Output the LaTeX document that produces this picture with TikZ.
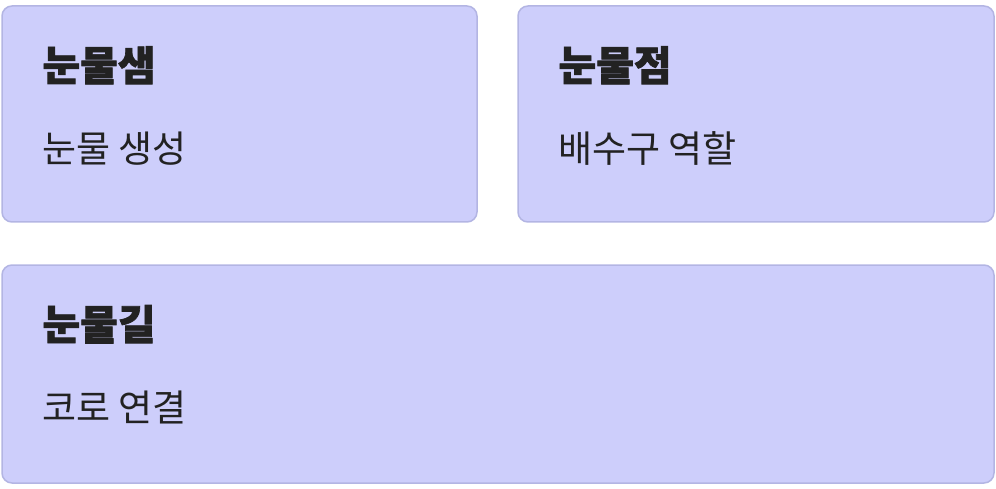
\documentclass[tikz,border=0pt]{standalone}
\usepackage{fontspec}
\newfontfamily\hangul{Noto Sans CJK KR}
\newfontfamily\hangulnero{Noto Sans CJK KR}[BoldFeatures={FakeBold=1.6}]
\usepackage{tikz}
\usetikzlibrary{positioning}
\definecolor{boxfill}{HTML}{CDCEFB}
\definecolor{boxline}{HTML}{B3B5E3}
\definecolor{testo}{HTML}{222222}
\tikzset{
  scatola/.style={draw=boxline, fill=boxfill, line width=1.5pt, rounded corners=10pt, rectangle, inner sep=0pt},
  titolo/.style={anchor=west, inner sep=0pt, text=testo, font=\hangulnero\bfseries\fontsize{41}{45}\selectfont},
  sottotitolo/.style={anchor=west, inner sep=0pt, text=testo, font=\hangul\fontsize{37}{41}\selectfont}
}
\begin{document}
\begin{tikzpicture}[x=1pt, y=1pt]
    \useasboundingbox (0,0) rectangle (996,488);
    % tre scatole: due sopra e una lunga sotto
    \node[scatola, minimum width=475pt, minimum height=216pt] (saem) at (239.5, 374) {};
    \node[scatola, minimum width=476pt, minimum height=216pt] (jeom) at (756, 374) {};
    \node[scatola, minimum width=992pt, minimum height=218pt] (gil) at (498, 114) {};
    \node[titolo] (saemT) at ([xshift=41pt, yshift=-60pt]saem.north west) {눈물샘};
    \node[sottotitolo] (saemS) at ([xshift=41pt, yshift=-143pt]saem.north west) {눈물 생성};
    \node[titolo] (jeomT) at ([xshift=41pt, yshift=-60pt]jeom.north west) {눈물점};
    \node[sottotitolo] (jeomS) at ([xshift=41pt, yshift=-143pt]jeom.north west) {배수구 역할};
    \node[titolo] (gilT) at ([xshift=41pt, yshift=-60pt]gil.north west) {눈물길};
    \node[sottotitolo] (gilS) at ([xshift=41pt, yshift=-143pt]gil.north west) {코로 연결};
\end{tikzpicture}
\end{document}
